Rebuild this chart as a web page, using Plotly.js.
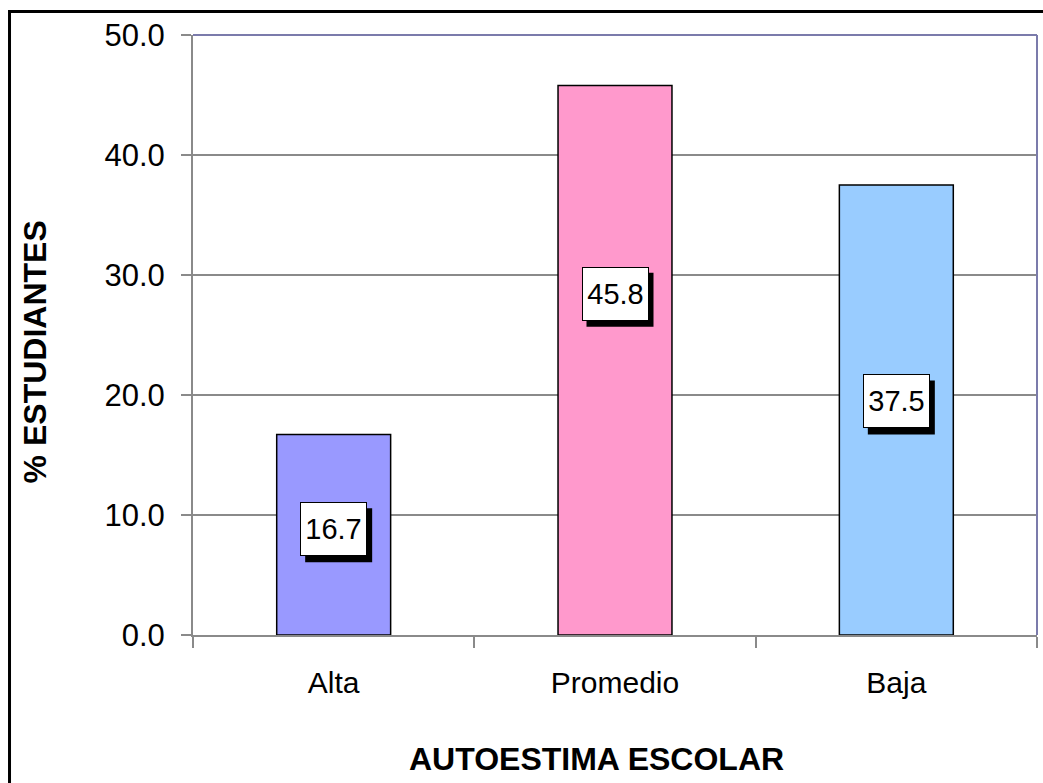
<!DOCTYPE html>
<html>
<head>
<meta charset="utf-8">
<script src="https://cdn.plot.ly/plotly-3.0.1.min.js"></script>
<style>
html,body{margin:0;padding:0;background:#fff;}
#chart{width:1043px;height:783px;}
</style>
</head>
<body>
<div id="chart"></div>
<script>
// Data
const categories = ["Alta", "Promedio", "Baja"];
const values = [16.7, 45.8, 37.5];
const barColors = ["#9999ff", "#ff99cc", "#99ccff"];
const yTickValues = [0, 10, 20, 30, 40, 50];
const yTickLabels = ["0.0", "10.0", "20.0", "30.0", "40.0", "50.0"];
const xTitle = "AUTOESTIMA ESCOLAR";
const yTitle = "% ESTUDIANTES";

// label vertical placement (fraction of the bar height) as in the reference
const labelFrac = [0.528, 0.621, 0.519];

const FONT = '"Liberation Sans", Arial, sans-serif';

const trace = {
  type: "bar",
  x: categories,
  y: values,
  marker: { color: barColors, line: { color: "#000", width: 1.5 } },
  width: 0.405,
  hoverinfo: "skip"
};

const BW = 67, BH = 54, SX = 5, SY = 6;
const annotations = [
  // axis titles (placed like the reference, which is offset from plot centre)
  { xref: "paper", yref: "paper", x: 0.4775, y: -0.2063, xanchor: "center", yanchor: "middle",
    text: xTitle, showarrow: false, font: { family: FONT, size: 32, color: "#000", weight: "bold" } },
  { xref: "paper", yref: "paper", x: -0.1872, y: 0.471, xanchor: "center", yanchor: "middle",
    text: yTitle, textangle: -90, showarrow: false, font: { family: FONT, size: 32, color: "#000", weight: "bold" } }
];
const shapes = [
  // plot area border top & right (bluish)
  { type: "line", xref: "paper", yref: "paper", x0: 0, x1: 1, y0: 1, y1: 1, line: { color: "#7b7bab", width: 2 } },
  { type: "line", xref: "paper", yref: "paper", x0: 1, x1: 1, y0: 0, y1: 1, line: { color: "#7b7bab", width: 2 } },
  // outer chart border
  { type: "rect", xref: "paper", yref: "paper", x0: -0.2174, x1: 1.05, y0: -0.35, y1: 1.0391, line: { color: "#000", width: 3 }, layer: "above" }
];
categories.forEach((c, i) => {
  const txt = values[i].toFixed(1);
  const ly = values[i] * labelFrac[i];
  // shadow
  shapes.push({
    type: "rect", layer: "above",
    xref: "x", yref: "y", xsizemode: "pixel", ysizemode: "pixel",
    xanchor: c, yanchor: ly,
    x0: -BW / 2 + SX, x1: BW / 2 + SX, y0: -BH / 2 - SY, y1: BH / 2 - SY,
    fillcolor: "#000", line: { width: 0 }
  });
  // box
  annotations.push({
    x: c, y: ly, xref: "x", yref: "y", text: txt, showarrow: false,
    font: { family: FONT, size: 29, color: "#000" },
    bgcolor: "#fff", bordercolor: "#000", borderwidth: 1, borderpad: 0,
    width: BW - 2, height: BH - 2
  });
});

const layout = {
  width: 1043, height: 783,
  margin: { l: 193, r: 6, t: 35, b: 148 },
  paper_bgcolor: "#fff",
  plot_bgcolor: "#fff",
  showlegend: false,
  font: { family: FONT, color: "#000" },
  bargap: 0.595,
  xaxis: {
    type: "category",
    tickson: "boundaries",
    ticks: "outside", ticklen: 11, tickwidth: 2, tickcolor: "#8a8a8a",
    showline: true, linecolor: "#8a8a8a", linewidth: 2,
    showgrid: false, zeroline: false,
    ticklabelstandoff: 20,
    tickfont: { family: FONT, size: 30, color: "#000" },
    automargin: false
  },
  yaxis: {
    range: [0, 50],
    tickvals: yTickValues, ticktext: yTickLabels,
    ticks: "outside", ticklen: 10, tickwidth: 2, tickcolor: "#8a8a8a",
    showline: true, linecolor: "#8a8a8a", linewidth: 2,
    showgrid: true, gridcolor: "#8a8a8a", gridwidth: 1.3,
    zeroline: false,
    ticklabelstandoff: 10,
    tickfont: { family: FONT, size: 31, color: "#000" },
    automargin: false
  },
  annotations: annotations,
  shapes: shapes
};

Plotly.newPlot("chart", [trace], layout, { displayModeBar: false, staticPlot: true });
</script>
</body>
</html>
